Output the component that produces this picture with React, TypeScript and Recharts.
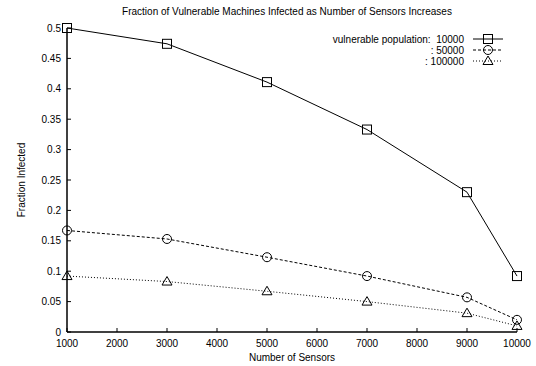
import { LineChart, Line, XAxis, YAxis, Legend } from 'recharts';

const sensors = [1000, 3000, 5000, 7000, 9000, 10000];
const pop10000 = [0.5, 0.474, 0.411, 0.333, 0.23, 0.092];
const pop50000 = [0.167, 0.153, 0.123, 0.092, 0.057, 0.02];
const pop100000 = [0.092, 0.083, 0.067, 0.05, 0.031, 0.01];

const xTicks = [1000, 2000, 3000, 4000, 5000, 6000, 7000, 8000, 9000, 10000];
const yTicks = [0, 0.05, 0.1, 0.15, 0.2, 0.25, 0.3, 0.35, 0.4, 0.45, 0.5];

const legendLabels = ['vulnerable population:  10000', ': 50000', ': 100000'];

const data = sensors.map((s, i) => ({
  sensors: s,
  p10k: pop10000[i],
  p50k: pop50000[i],
  p100k: pop100000[i],
}));

const FONT = '"Liberation Sans", Arial, Helvetica, sans-serif';
const TICK_LEN = 4;

function Square({ cx, cy }: { cx: number; cy: number }) {
  return <rect x={cx - 4.5} y={cy - 4.5} width={9} height={9} fill="none" stroke="#000" strokeWidth={1} />;
}

function Circle({ cx, cy }: { cx: number; cy: number }) {
  return <circle cx={cx} cy={cy} r={4.5} fill="none" stroke="#000" strokeWidth={1} />;
}

function Triangle({ cx, cy }: { cx: number; cy: number }) {
  return (
    <polygon
      points={`${cx},${cy - 5} ${cx - 5},${cy + 3.5} ${cx + 5},${cy + 3.5}`}
      fill="none"
      stroke="#000"
      strokeWidth={1}
    />
  );
}

// gnuplot style: ticks point into the plot, labels outside
function BottomTick(props: any) {
  const { x, y, payload } = props;
  const axisY = y - 8;
  return (
    <g>
      <line x1={x} y1={axisY} x2={x} y2={axisY - TICK_LEN} stroke="#000" />
      <text x={x} y={y} dy="0.71em" textAnchor="middle" fontSize={10} fontFamily={FONT} fill="#000">
        {payload.value}
      </text>
    </g>
  );
}

function LeftTick(props: any) {
  const { x, y, payload } = props;
  const axisX = x + 6;
  return (
    <g>
      <line x1={axisX} y1={y} x2={axisX + TICK_LEN} y2={y} stroke="#000" />
      <text x={x} y={y} dy="0.35em" textAnchor="end" fontSize={10} fontFamily={FONT} fill="#000">
        {payload.value}
      </text>
    </g>
  );
}

function TopTick(props: any) {
  const { x, y } = props;
  return <line x1={x} y1={y} x2={x} y2={y + TICK_LEN} stroke="#000" />;
}

function RightTick(props: any) {
  const { x, y } = props;
  return <line x1={x} y1={y} x2={x - TICK_LEN} y2={y} stroke="#000" />;
}

function LegendBox() {
  const shapes = [Square, Circle, Triangle];
  const dashes = [undefined, '3 2', '1 2'];
  return (
    <svg width={215} height={40}>
      {legendLabels.map((label, i) => {
        const cy = 8 + i * 11;
        const Shape = shapes[i];
        return (
          <g key={label}>
            <text x={164} y={cy} dy="0.35em" textAnchor="end" fontSize={10} fontFamily={FONT} fill="#000" style={{ whiteSpace: 'pre' }}>
              {label}
            </text>
            <line x1={173} y1={cy} x2={203} y2={cy} stroke="#000" strokeDasharray={dashes[i]} />
            <Shape cx={188} cy={cy} />
          </g>
        );
      })}
    </svg>
  );
}

export default function App() {
  return (
    <div style={{ position: 'absolute', left: 0, top: 0, width: 536, height: 366, background: '#fff' }}>
      <div
        style={{
          position: 'absolute',
          left: 0,
          width: 574,
          top: 6,
          textAlign: 'center',
          fontFamily: FONT,
          fontSize: 10,
          lineHeight: '12px',
        }}
      >
        Fraction of Vulnerable Machines Infected as Number of Sensors Increases
      </div>
      <LineChart width={536} height={366} data={data} margin={{ top: 28, right: 19, bottom: 0, left: 0 }}>
        <XAxis
          dataKey="sensors"
          type="number"
          domain={[1000, 10000]}
          ticks={xTicks}
          interval={0}
          height={34}
          tickSize={0}
          tickMargin={8}
          tick={<BottomTick />}
          axisLine={{ stroke: '#000', strokeWidth: 1.5 }}
          label={{ value: 'Number of Sensors', position: 'insideBottom', offset: 5, fontSize: 10, fontFamily: FONT, fill: '#000' }}
        />
        <XAxis
          xAxisId="top"
          orientation="top"
          dataKey="sensors"
          type="number"
          domain={[1000, 10000]}
          ticks={xTicks}
          interval={0}
          height={0}
          tickSize={0}
          tickMargin={0}
          tick={<TopTick />}
          axisLine={{ stroke: '#000', strokeWidth: 1.5 }}
        />
        <YAxis
          type="number"
          domain={[0, 0.5]}
          ticks={yTicks}
          interval={0}
          width={67}
          tickSize={0}
          tickMargin={6}
          tick={<LeftTick />}
          axisLine={{ stroke: '#000', strokeWidth: 1.5 }}
          label={{
            content: (p: any) => {
              const vb = p.viewBox;
              const cx = vb.x + 21;
              const cy = vb.y + vb.height / 2;
              return (
                <text x={cx} y={cy} dy="0.35em" textAnchor="middle" transform={`rotate(-90 ${cx} ${cy})`} fontSize={10} fontFamily={FONT} fill="#000">
                  Fraction Infected
                </text>
              );
            },
          }}
        />
        <YAxis
          yAxisId="right"
          orientation="right"
          type="number"
          domain={[0, 0.5]}
          ticks={yTicks}
          interval={0}
          width={0}
          tickSize={0}
          tickMargin={0}
          tick={<RightTick />}
          axisLine={{ stroke: '#000', strokeWidth: 1.5 }}
        />
        <Legend
          layout="horizontal"
          verticalAlign="middle"
          align="center"
          wrapperStyle={{ top: 31, left: 300, width: 215, height: 40 }}
          content={() => <LegendBox />}
        />
        <Line
          dataKey="p10k"
          stroke="#000"
          strokeWidth={1}
          isAnimationActive={false}
          dot={(p: any) => <Square key={`s${p.index}`} cx={p.cx} cy={p.cy} />}
        />
        <Line
          dataKey="p50k"
          stroke="#000"
          strokeWidth={1}
          strokeDasharray="3 2"
          isAnimationActive={false}
          dot={(p: any) => <Circle key={`c${p.index}`} cx={p.cx} cy={p.cy} />}
        />
        <Line
          dataKey="p100k"
          stroke="#000"
          strokeWidth={1}
          strokeDasharray="1 2"
          isAnimationActive={false}
          dot={(p: any) => <Triangle key={`t${p.index}`} cx={p.cx} cy={p.cy} />}
        />
      </LineChart>
    </div>
  );
}
